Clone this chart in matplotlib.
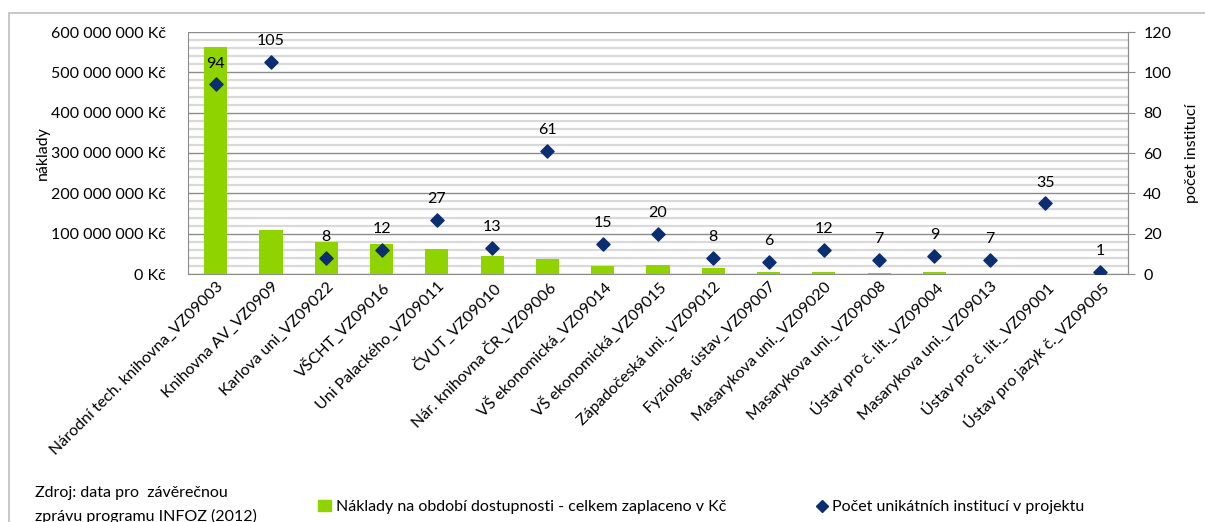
import matplotlib
matplotlib.use("Agg")
import matplotlib.pyplot as plt
from matplotlib.ticker import FuncFormatter, MultipleLocator
from matplotlib.patches import Rectangle
from matplotlib.lines import Line2D

plt.rcParams['font.family'] = ['Lato', 'DejaVu Sans']

categories = [
    "Národní tech. knihovna_VZ09003", "Knihovna AV_VZ0909", "Karlova uni_VZ09022",
    "VŠCHT_VZ09016", "Uni Palackého_VZ09011", "ČVUT_VZ09010", "Nár. knihovna ČR_VZ09006",
    "VŠ ekonomická_VZ09014", "VŠ ekonomická_VZ09015", "Západočeská uni._VZ09012",
    "Fyziolog. ústav_VZ09007", "Masarykova uni._VZ09020", "Masarykova uni._VZ09008",
    "Ústav pro č. lit._VZ09004", "Masarykova uni._VZ09013", "Ústav pro č. lit._VZ09001",
    "Ústav pro jazyk č._VZ09005",
]
costs = [562e6, 109e6, 80e6, 74e6, 63e6, 45e6, 38e6, 20e6, 23e6, 15e6,
         6e6, 5e6, 2e6, 4e6, 1e6, 1e6, 0.3e6]
institutions = [94, 105, 8, 12, 27, 13, 61, 15, 20, 8, 6, 12, 7, 9, 7, 35, 1]

bar_label = "Náklady na období dostupnosti - celkem zaplaceno v Kč"
point_label = "Počet unikátních institucí v projektu"
source_lines = ["Zdroj: data pro  závěrečnou", "zprávu programu INFOZ (2012)"]

GREEN = '#8FD400'
NAVY = '#0B2D72'
fs = 11.5

fig = plt.figure(figsize=(12.05, 5.22), dpi=100)
fig.patches.append(Rectangle((9/1205, -0.1), 1.2, 1 - 13/522 + 0.1, transform=fig.transFigure,
                             fill=False, edgecolor='#BFBFBF', lw=1.2))
ax = fig.add_axes([188/1205, 1 - 274/522, 940/1205, 242/522])
x = list(range(len(categories)))
ax.bar(x, costs, width=0.42, color=GREEN, zorder=3)
ax.set_xlim(-0.5, len(categories) - 0.5)
ax.set_ylim(0, 600e6)
ax.yaxis.set_major_locator(MultipleLocator(100e6))
ax.yaxis.set_minor_locator(MultipleLocator(20e6))
ax.yaxis.set_major_formatter(FuncFormatter(lambda v, p: f"{int(v):,} Kč".replace(",", " ")))
ax.grid(which='minor', axis='y', color='#D9D9D9', lw=1.6, zorder=0)
ax.grid(which='major', axis='y', color='#8C8C8C', lw=1.0, zorder=1)
ax.tick_params(axis='y', which='both', length=0, labelsize=fs, pad=16)
ax.tick_params(axis='x', length=0, pad=4)
ax.set_xticks(x)
ax.set_xticklabels(categories, rotation=45, ha='right', va='top', rotation_mode='anchor', fontsize=fs)
ax.spines['top'].set_visible(False)
for s in ['left', 'bottom', 'right']:
    ax.spines[s].set_color('#8C8C8C')
ax.set_ylabel("náklady", fontsize=fs, labelpad=1)

ax2 = ax.twinx()
ax2.set_ylim(0, 120)
ax2.yaxis.set_major_locator(MultipleLocator(20))
ax2.scatter(x, institutions, marker='D', s=45, color=NAVY, zorder=5)
for xi, v in zip(x, institutions):
    ax2.annotate(str(v), (xi, v), xytext=(0, 10), textcoords='offset points',
                 ha='center', va='bottom', fontsize=fs)
ax2.tick_params(axis='y', length=5, color='#8C8C8C', labelsize=fs, pad=6)
for s in ['top', 'left', 'bottom']:
    ax2.spines[s].set_visible(False)
ax2.spines['right'].set_color('#8C8C8C')
ax2.set_ylabel("počet institucí", fontsize=fs, labelpad=10)

fig.text(35/1205, 1 - 493/522, source_lines[0], fontsize=fs, va='center', ha='left')
fig.text(35/1205, 1 - 516/522, source_lines[1], fontsize=fs, va='center', ha='left')
handles = [Rectangle((0, 0), 1, 1, color=GREEN),
           Line2D([], [], marker='D', color=NAVY, lw=0, markersize=6)]
fig.legend(handles[:1], [bar_label], loc='center left', bbox_to_anchor=(310/1205, 1 - 507/522),
           frameon=False, fontsize=fs, handlelength=0.8, handletextpad=0.3, borderpad=0)
fig.legend(handles[1:], [point_label], loc='center left', bbox_to_anchor=(808/1205, 1 - 507/522),
           frameon=False, fontsize=fs, handlelength=0.8, handletextpad=0.2, borderpad=0)

fig.savefig("out.png", dpi=100)
